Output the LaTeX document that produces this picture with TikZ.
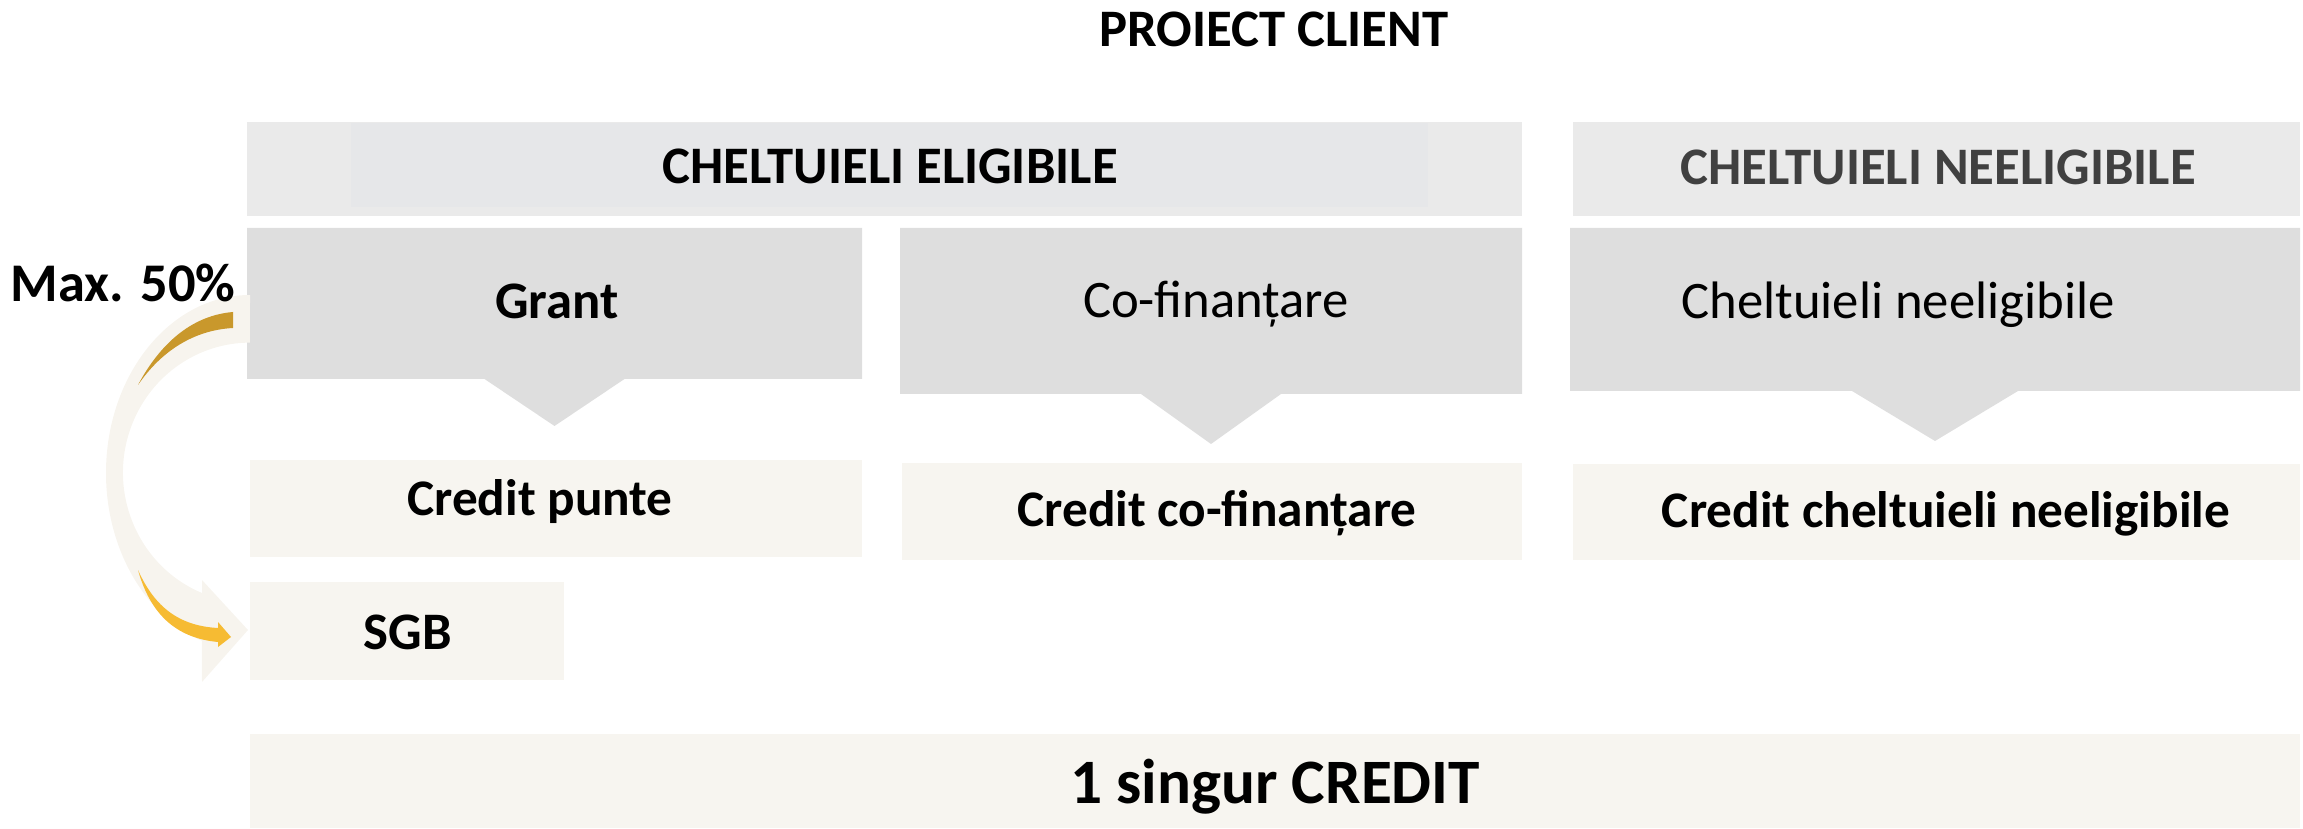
\documentclass[tikz,border=0pt]{standalone}
\usepackage{fontspec}
\setmainfont{Carlito}
\usetikzlibrary{positioning,calc}

\definecolor{hdrgray}{HTML}{EAEAEA}
\definecolor{hdrinner}{HTML}{E6E7E9}
\definecolor{boxgray}{HTML}{DEDEDE}
\definecolor{cream}{HTML}{F7F5F0}
\definecolor{arrowcream}{HTML}{F7F4EE}
\definecolor{darkgold}{HTML}{C9982C}
\definecolor{sunyellow}{HTML}{F6BB33}
\definecolor{hdrtext}{HTML}{404040}

\begin{document}
\begin{tikzpicture}[
    txt/.style={inner sep=0pt, font=\fontsize{15}{18}\selectfont},
    bold/.style={txt, font=\fontsize{15}{18}\selectfont\bfseries},
    cred/.style={txt, font=\fontsize{14.6}{18}\selectfont\bfseries},
    big/.style={txt, font=\fontsize{18}{22}\selectfont\bfseries}
  ]
    \useasboundingbox (0,0) rectangle (23.03,8.28);

    % Boxes {headers, callouts, credits}
    \fill[hdrgray]  (2.47,6.12)  rectangle (15.22,7.06);
    \fill[hdrinner] (3.51,6.21)  rectangle (14.28,7.05);
    \fill[hdrgray]  (15.73,6.12) rectangle (23.00,7.06);
    \foreach \xl/\xr/\yb/\tip/\hw in {2.47/8.62/4.49/4.02/0.70,
                                      9.00/15.22/4.34/3.84/0.70,
                                      15.70/23.00/4.37/3.87/0.83}
      \fill[boxgray] (\xl,6.00) -- (\xr,6.00) -- (\xr,\yb)
        -- ({(\xl+\xr)/2+\hw},\yb) -- ({(\xl+\xr)/2},\tip) -- ({(\xl+\xr)/2-\hw},\yb)
        -- (\xl,\yb) -- cycle;
    \fill[cream] (2.50,2.71)  rectangle (8.62,3.68);
    \fill[cream] (9.02,2.68)  rectangle (15.22,3.65);
    \fill[cream] (15.73,2.68) rectangle (23.00,3.64);
    \fill[cream] (2.50,1.48)  rectangle (5.64,2.46);
    \fill[cream] (2.50,0)     rectangle (23.00,0.94);

    % Curved arrow {Grant -> SGB}
    \fill[arrowcream] (2.50,5.33)
      arc[start angle=90, end angle=250.5, x radius=1.44cm, y radius=1.78cm]
      -- (2.02,1.46) -- (2.48,1.98) -- (2.02,2.48) -- (2.02,2.35)
      arc[start angle=247.8, end angle=90, x radius=1.27cm, y radius=1.30cm]
      -- cycle;
    \fill[darkgold] (2.33,5.16) .. controls (1.85,5.12) and (1.55,4.75) .. (1.38,4.43)
      .. controls (1.62,4.78) and (1.95,4.98) .. (2.33,5.00) -- cycle;
    \fill[sunyellow] (1.38,2.58) .. controls (1.55,2.20) and (1.80,2.02) .. (2.18,2.00)
      -- (2.18,2.06) -- (2.31,1.91) -- (2.18,1.81) -- (2.18,1.86)
      .. controls (1.75,1.90) and (1.50,2.15) .. (1.38,2.58) -- cycle;

    % Texts
    \node [bold] (title)    at (12.74,7.99) {PROIECT CLIENT};
    \node [bold] (elig)     at (8.90,6.62)  {CHELTUIELI ELIGIBILE};
    \node [bold, text=hdrtext] (neelig) at (19.38,6.61) {CHELTUIELI NEELIGIBILE};
    \node [bold] (grant)    at (5.57,5.27)  {Grant};
    \node [txt]  (cofin)    at (12.16,5.24) {Co-finanțare};
    \node [txt]  (chelt)    at (18.98,5.23) {Cheltuieli neeligibile};
    \node [cred] (cpunte)   at (5.40,3.26)  {Credit punte};
    \node [cred] (ccofin)   at (12.17,3.15) {Credit co-finanțare};
    \node [cred] (cchelt)   at (19.46,3.14) {Credit cheltuieli neeligibile};
    \node [bold] (sgb)      at (4.08,1.96)  {SGB};
    \node [big]  (single)   at (12.75,0.41) {1 singur CREDIT};
    \node [bold, font=\fontsize{15.5}{18}\selectfont\bfseries] (maxpct) at (1.23,5.45) {Max. 50\%};

\end{tikzpicture}
\end{document}
